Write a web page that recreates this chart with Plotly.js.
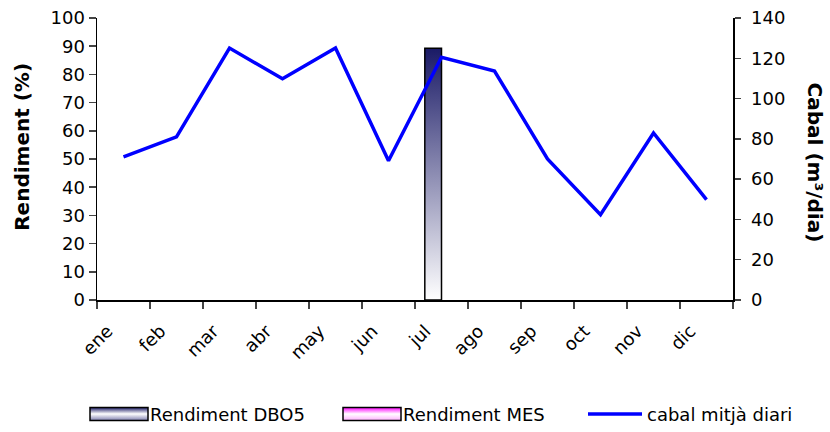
<!DOCTYPE html>
<html>
<head>
<meta charset="utf-8">
<script src="https://cdn.plot.ly/plotly-3.0.1.min.js"></script>
<style>html,body{margin:0;padding:0;background:#fff}#chart{width:830px;height:432px}</style>
</head>
<body>
<div id="chart"></div>
<script>
const months = ['ene','feb','mar','abr','may','jun','jul','ago','sep','oct','nov','dic'];
const rendDBO5 = [null,null,null,null,null,null,89.3,null,null,null,null,null];
const rendMES = [null,null,null,null,null,null,null,null,null,null,null,null];
const cabal = [71.1, 81.0, 125.1, 109.8, 125.1, 69.1, 120.5, 113.7, 70.0, 42.4, 82.9, 49.8];

const FONT = 'DejaVu Sans, Verdana, sans-serif';

const traces = [
  {type:'bar', name:'Rendiment DBO5', x:months, y:rendDBO5, yaxis:'y',
   marker:{color:'#5a5a8c', line:{color:'#000', width:1.5}}},
  {type:'bar', name:'Rendiment MES', x:months, y:rendMES, yaxis:'y',
   marker:{color:'#ff66ff', line:{color:'#000', width:1.5}}},
  {type:'scatter', mode:'lines', name:'cabal mitjà diari', x:months, y:cabal, yaxis:'y2',
   line:{color:'#0000ff', width:3.5}}
];

const layout = {
  width:830, height:432,
  margin:{l:97, r:97, t:18, b:131.5, autoexpand:false},
  paper_bgcolor:'#fff', plot_bgcolor:'#fff',
  font:{family:FONT, size:17, color:'#000'},
  barmode:'group', bargap:0.37, bargroupgap:0,
  showlegend:true,
  legend:{orientation:'h', x:0.5, xanchor:'center', y:-0.405, yanchor:'middle',
          itemwidth:30, font:{family:FONT, size:18}, traceorder:'normal'},
  xaxis:{type:'category', tickson:'boundaries', ticks:'outside', ticklen:7, tickwidth:1.5,
         showline:true, linecolor:'#000', linewidth:1.5, showgrid:false, zeroline:false,
         tickangle:-45, ticklabelstandoff:12, ticklabelshift:-16, automargin:false,
         tickfont:{family:FONT, size:18}, fixedrange:true},
  yaxis:{range:[0,100], dtick:10, ticks:'outside', ticklen:7, tickwidth:1.5, automargin:false,
         showline:true, linecolor:'#000', linewidth:1.5, showgrid:false, zeroline:false,
         tickfont:{family:FONT, size:18}},
  yaxis2:{range:[0,140], dtick:20, overlaying:'y', side:'right', ticks:'outside', ticklen:6, tickwidth:1.5,
          ticklabelstandoff:7,
          showline:true, linecolor:'#000', linewidth:1.5, showgrid:false, zeroline:false, automargin:false,
          tickfont:{family:FONT, size:18}},
  yaxis3:{range:[0,140], dtick:20, overlaying:'y', side:'right', anchor:'x', ticks:'inside', ticklen:6, tickwidth:1.5,
          showticklabels:false, showline:false, showgrid:false, zeroline:false, automargin:false},
  annotations:[
    {text:'<b>Rendiment (%)</b>', xref:'paper', yref:'paper', x:-0.118, y:0.543,
     textangle:-90, showarrow:false, font:{family:FONT, size:20}, xanchor:'center', yanchor:'middle'},
    {text:'<b>Cabal (m³/dia)</b>', xref:'paper', yref:'paper', x:1.129, y:0.487,
     textangle:90, showarrow:false, font:{family:FONT, size:20}, xanchor:'center', yanchor:'middle'}
  ]
};

Plotly.newPlot('chart', traces, layout, {staticPlot:true}).then(gd => {
  const svg = gd.querySelector('svg.main-svg');
  const ns = 'http://www.w3.org/2000/svg';
  let defs = svg.querySelector('defs');
  if (!defs) { defs = document.createElementNS(ns,'defs'); svg.insertBefore(defs, svg.firstChild); }
  function grad(id, stops) {
    const g = document.createElementNS(ns,'linearGradient');
    g.setAttribute('id', id);
    g.setAttribute('x1','0'); g.setAttribute('y1','0'); g.setAttribute('x2','0'); g.setAttribute('y2','1');
    stops.forEach(s => {
      const st = document.createElementNS(ns,'stop');
      st.setAttribute('offset', s[0]); st.setAttribute('stop-color', s[1]);
      g.appendChild(st);
    });
    defs.appendChild(g);
  }
  grad('gDBO', [['0','#1a1a66'],['1','#ffffff']]);
  grad('gMES', [['0','#ff00ff'],['0.5','#ffffff'],['1','#ffb0ff']]);
  grad('gDBOleg', [['0','#1a1a66'],['0.5','#ffffff'],['1','#8080b0']]);
  const barTraces = gd.querySelectorAll('.barlayer .trace');
  if (barTraces[0]) barTraces[0].querySelectorAll('path').forEach(p => p.style.fill = 'url(#gDBO)');
  if (barTraces[1]) barTraces[1].querySelectorAll('path').forEach(p => p.style.fill = 'url(#gMES)');
  const legTraces = gd.querySelectorAll('.legend .traces');
  const iconLeft = [90, 343, 588];
  const svgLeft = svg.getBoundingClientRect().left;
  let rowY = null;
  legTraces.forEach((t, i) => {
    const txt = t.querySelector('text.legendtext');
    const tx = txt ? parseFloat(txt.getAttribute('x')) : 40;
    let firstPath = null;
    if (i < 2) {
      t.querySelectorAll('.legendpoints path').forEach(p => {
        p.removeAttribute('transform');
        p.setAttribute('d', `M${tx-60},-6.5H${tx-2}V6.5H${tx-60}Z`);
        p.style.fill = i === 0 ? 'url(#gDBOleg)' : 'url(#gMES)';
        p.style.stroke = '#000'; p.style.strokeWidth = '1.5px';
        if (!firstPath) firstPath = p;
      });
    } else {
      t.querySelectorAll('.legendlines path').forEach(p => {
        p.removeAttribute('transform');
        p.setAttribute('d', `M${tx-59},0h54`);
        if (!firstPath) firstPath = p;
      });
    }
    if (firstPath && iconLeft[i] !== undefined) {
      const r = firstPath.getBoundingClientRect();
      const cur = r.left - svgLeft;
      const delta = iconLeft[i] - cur;
      const tr = t.getAttribute('transform') || '';
      const m = tr.match(/translate\(\s*([-\d.]+)[ ,]+([-\d.]+)\s*\)/);
      if (m) {
        if (rowY === null) rowY = m[2];
        t.setAttribute('transform', `translate(${parseFloat(m[1]) + delta},${rowY})`);
      }
    }
  });
  const bg = gd.querySelector('.legend .bg');
  if (bg) bg.style.display = 'none';
  const sc = gd.querySelector('.legend .scrollbox');
  if (sc) sc.removeAttribute('clip-path');
});
</script>
</body>
</html>
